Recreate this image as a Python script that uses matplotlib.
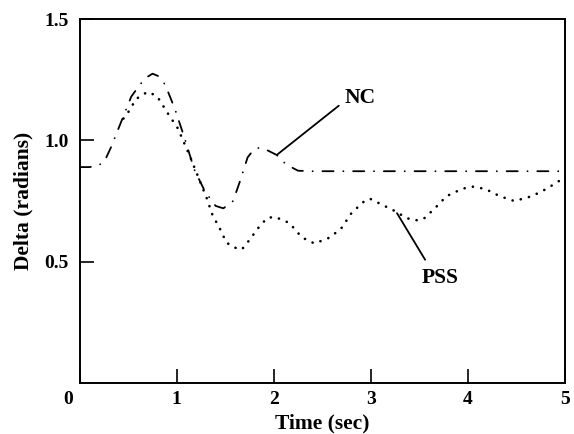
import matplotlib
matplotlib.use("Agg")
import matplotlib.pyplot as plt
import matplotlib.transforms as mtransforms

# values
nc_t = [0.0, 0.10, 0.18, 0.25, 0.32, 0.42, 0.53, 0.62, 0.69, 0.75, 0.81, 0.88,
        0.98, 1.08, 1.18, 1.29, 1.40, 1.48, 1.58, 1.65, 1.73, 1.80, 1.86, 1.93,
        2.03, 2.13, 2.25, 2.40, 3.0, 4.0, 5.0]
nc_delta = [0.89, 0.89, 0.895, 0.91, 0.97, 1.07, 1.18, 1.23, 1.26, 1.275, 1.265, 1.23,
            1.13, 1.01, 0.88, 0.79, 0.73, 0.72, 0.75, 0.83, 0.93, 0.965, 0.97, 0.96,
            0.94, 0.90, 0.875, 0.873, 0.873, 0.873, 0.873]

pss_t = [0.45, 0.49, 0.58, 0.65, 0.71, 0.80, 0.91, 1.01, 1.14, 1.22, 1.31, 1.37,
         1.44, 1.51, 1.58, 1.67, 1.77, 1.82, 1.93, 2.01, 2.16, 2.29, 2.42, 2.58,
         2.70, 2.80, 2.92, 2.99, 3.14, 3.22, 3.37, 3.45, 3.54, 3.66, 3.78, 3.94,
         4.04, 4.18, 4.33, 4.48, 4.66, 4.81, 4.95, 5.0]
pss_delta = [1.09, 1.11, 1.17, 1.19, 1.20, 1.18, 1.11, 1.05, 0.93, 0.85, 0.76, 0.69,
             0.64, 0.58, 0.56, 0.55, 0.60, 0.63, 0.68, 0.685, 0.66, 0.60, 0.575, 0.60,
             0.64, 0.70, 0.745, 0.76, 0.73, 0.715, 0.68, 0.67, 0.675, 0.72, 0.77, 0.80,
             0.81, 0.80, 0.77, 0.75, 0.77, 0.80, 0.835, 0.84]

x_ticks = [0, 1, 2, 3, 4, 5]
x_labels = ["0", "1", "2", "3", "4", "5"]
y_ticks = [0.5, 1.0, 1.5]
y_labels = ["0.5", "1.0", "1.5"]

plt.rcParams['font.family'] = ['Liberation Serif', 'DejaVu Serif']
plt.rcParams['font.weight'] = 'bold'
plt.rcParams['lines.scale_dashes'] = False

fig = plt.figure(figsize=(5.74, 4.34), dpi=100)
ax = fig.add_axes([0.139, 0.1175, 0.845, 0.8385])

ax.plot(nc_t, nc_delta, color='black', lw=1.3,
        linestyle=(0, (8, 7, 0.1, 7)), dash_capstyle='round')
ax.plot(pss_t, pss_delta, color='black', lw=1.9,
        linestyle=(0, (0.1, 6.0)), dash_capstyle='round')

# label leaders
ax.annotate('', xy=(2.04, 0.943), xytext=(2.67, 1.143),
            arrowprops=dict(arrowstyle='-', lw=1.3, color='black',
                            shrinkA=0, shrinkB=0))
ax.text(2.89, 1.176, 'NC', fontsize=15.5, fontweight='bold', ha='center', va='center')
ax.annotate('', xy=(3.27, 0.70), xytext=(3.56, 0.508),
            arrowprops=dict(arrowstyle='-', lw=1.3, color='black',
                            shrinkA=0, shrinkB=0))
ax.text(3.71, 0.434, 'PSS', fontsize=15.5, fontweight='bold', ha='center', va='center')

ax.set_xlim(0, 5)
ax.set_ylim(0, 1.5)
ax.set_xticks(x_ticks)
ax.set_xticklabels(x_labels, fontsize=14, fontweight='bold')
ax.set_yticks(y_ticks)
ax.set_yticklabels(y_labels, fontsize=14, fontweight='bold')
ax.tick_params(direction='in', length=10, width=1.2)
ax.tick_params(axis='y', pad=8)
ax.tick_params(axis='x', pad=6)

# the origin label sits left of the axis corner
offset = mtransforms.ScaledTranslation(-0.12, 0, fig.dpi_scale_trans)
lab0 = ax.get_xticklabels()[0]
lab0.set_transform(lab0.get_transform() + offset)

for side in ['left', 'bottom', 'top', 'right']:
    ax.spines[side].set_linewidth(1.4)

ax.set_xlabel('Time (sec)', fontsize=15.5, fontweight='bold', labelpad=4)
ax.set_ylabel('Delta (radians)', fontsize=15.5, fontweight='bold', labelpad=8)

fig.savefig('out.png', dpi=100)
